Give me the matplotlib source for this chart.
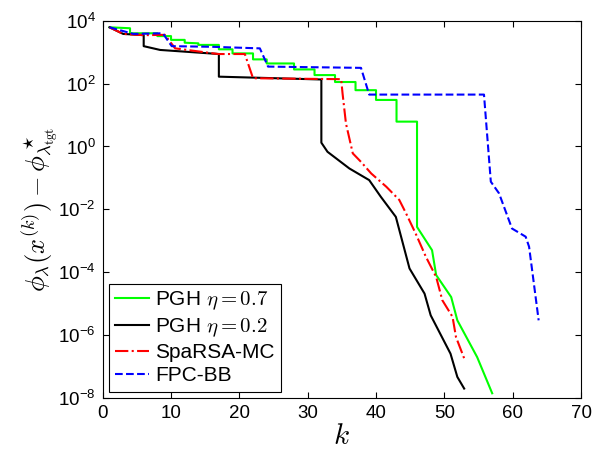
# Convergence of PGH vs SpaRSA-MC vs FPC-BB (objective gap per iteration)

import matplotlib
matplotlib.use("Agg")
import matplotlib.pyplot as plt
import numpy as np
from matplotlib.ticker import FixedLocator, FuncFormatter, NullLocator

plt.rcParams['font.family'] = ['Liberation Sans', 'DejaVu Sans']
plt.rcParams['mathtext.fontset'] = 'cm'

# iterations k and log10 of the objective gap
pgh07_k = [1, 4, 4, 8, 8, 10, 10, 12, 12, 14, 14, 17, 17, 19, 19, 22, 22, 24, 24, 28, 28,
           31, 31, 34, 34, 37, 37, 40, 40, 43, 43, 46, 46, 48.2, 48.8, 51, 51.9, 54.8, 57]
pgh07_log = [3.79, 3.76, 3.60, 3.60, 3.51, 3.51, 3.39, 3.39, 3.30, 3.28, 3.23, 3.23, 3.09, 3.09,
             2.96, 2.96, 2.77, 2.77, 2.64, 2.64, 2.45, 2.45, 2.27, 2.27, 2.05, 2.05, 1.79, 1.79,
             1.48, 1.48, 0.79, 0.79, -2.56, -3.30, -4.09, -4.79, -5.53, -6.70, -7.85]

pgh02_k = [1, 3, 6, 6, 8.4, 17, 17, 32, 32, 32.9, 36.1, 39, 40.7, 42.9, 44.9, 47.1, 48,
           50.9, 51.9, 52.9]
pgh02_log = [3.79, 3.58, 3.54, 3.19, 3.07, 2.94, 2.22, 2.13, 0.12, -0.17, -0.70, -1.07, -1.60,
             -2.24, -3.88, -4.68, -5.37, -6.59, -7.33, -7.70]

sparsa_k = [1, 3, 6, 9.1, 10.6, 16.9, 20.8, 22, 34.9, 35.1, 35.6, 36.6, 37.8, 39.3, 41.5,
            43.4, 44.4, 45.8, 47.3, 48.8, 49.7, 51.2, 51.7, 52.9]
sparsa_log = [3.79, 3.58, 3.54, 3.55, 3.12, 2.94, 2.94, 2.17, 2.14, 1.69, 0.73, -0.22, -0.49,
              -0.86, -1.28, -1.70, -2.13, -2.77, -3.51, -4.15, -4.89, -5.42, -6.06, -6.74]

fpcbb_k = [1, 4.5, 8.8, 10.1, 16, 23, 24.2, 37.8, 39, 55.8, 56.8, 58, 59.9, 61.9, 62.4, 63.8]
fpcbb_log = [3.79, 3.58, 3.60, 3.19, 3.17, 3.12, 2.54, 2.50, 1.65, 1.65, -1.12, -1.49, -2.61,
             -2.87, -3.19, -5.53]

fig = plt.figure(figsize=(5.95, 4.49), dpi=100)
ax = fig.add_axes([0.1726, 0.1136, 0.8039, 0.8403])

ax.semilogy(pgh07_k, 10.0 ** np.array(pgh07_log), '-', color=(0, 1, 0), lw=1.5,
            label=r'PGH $\eta = 0.7$')
ax.semilogy(pgh02_k, 10.0 ** np.array(pgh02_log), '-', color='k', lw=1.5,
            label=r'PGH $\eta = 0.2$')
ax.semilogy(sparsa_k, 10.0 ** np.array(sparsa_log), '-.', color=(1, 0, 0), lw=1.5,
            label='SpaRSA-MC')
ax.semilogy(fpcbb_k, 10.0 ** np.array(fpcbb_log), '--', color=(0, 0, 1), lw=1.5,
            label='FPC-BB')

ax.set_xlim(0, 70)
ax.set_ylim(1e-8, 1e4)
ax.set_xticks(range(0, 71, 10))
ax.yaxis.set_major_locator(FixedLocator([10.0 ** e for e in range(-8, 5, 2)]))
ax.yaxis.set_minor_locator(NullLocator())
ax.yaxis.set_major_formatter(FuncFormatter(
    lambda v, pos: r'$\mathregular{10^{%d}}$' % int(round(np.log10(v)))))
ax.tick_params(direction='in', top=True, right=True, labelsize=13.5, length=4, width=0.8,
               pad=5)
for s in ax.spines.values():
    s.set_linewidth(0.8)

ax.set_xlabel(r'$k$', fontsize=21, labelpad=0)
ax.set_ylabel(r'$\phi_\lambda(x^{(k)}) - \phi^\star_{\lambda_{\rm tgt}}$', fontsize=19,
              labelpad=-2)

leg = ax.legend(loc='lower left', fontsize=15, fancybox=False, edgecolor='k',
                framealpha=1, borderaxespad=0.3, handlelength=1.6, handletextpad=0.3,
                borderpad=0.3, labelspacing=0.2)
leg.get_frame().set_linewidth(0.8)

fig.savefig('out.png', dpi=100)
